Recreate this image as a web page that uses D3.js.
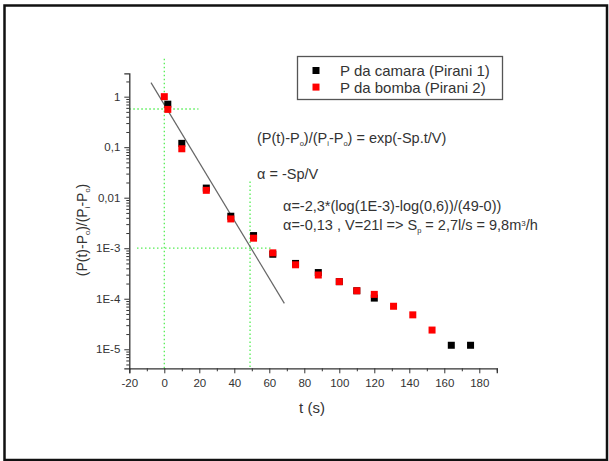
<!DOCTYPE html>
<html>
<head>
<meta charset="utf-8">
<script src="https://cdn.jsdelivr.net/npm/d3@7"></script>
<style>
  body { margin: 0; background: #fff; }
  svg { display: block; font-family: "Liberation Sans", Arial, sans-serif; }
</style>
</head>
<body>
<svg width="609" height="461"></svg>
<script>
// dados
const tempoCamara = [2, 10, 24, 38, 51, 62, 75, 88, 100, 110, 120, 164, 175]
const pCamara = [0.71, 0.119, 0.0155, 4.3e-3, 1.78e-3, 7.6e-4, 5.0e-4, 3.3e-4, 2.18e-4, 1.44e-4, 1.03e-4, 1.2e-5, 1.2e-5]

const tempoBomba = [0, 2, 10, 24, 38, 51, 62, 75, 88, 100, 110, 120, 131, 142, 153]
const pBomba = [1.0, 0.56, 0.093, 0.014, 3.8e-3, 1.58e-3, 8.1e-4, 4.7e-4, 2.95e-4, 2.18e-4, 1.44e-4, 1.22e-4, 7.1e-5, 4.8e-5, 2.4e-5]

// reta de ajuste (extremos)
const ajusteT = [-7.6, 68.6]
const ajusteP = [1.9, 8.1e-5]

const xTicks = [-20, 0, 20, 40, 60, 80, 100, 120, 140, 160, 180]
const yTicks = [1, 0.1, 0.01, 1e-3, 1e-4, 1e-5]
const yTickLabels = ["1", "0,1", "0,01", "1E-3", "1E-4", "1E-5"]

const legendas = ["P da camara (Pirani 1)", "P da bomba (Pirani 2)"]
const cores = ["#000000", "#ff0000"]

const svg = d3.select("svg")

const x = d3.scaleLinear().domain([-20, 190]).range([129.3, 496.8])
const y = d3.scaleLog().domain([4.2e-6, 2.9]).range([368.3, 73.3])

// moldura
svg.append("rect")
    .attr("x", 4.5).attr("y", 5.5)
    .attr("width", 602.5).attr("height", 454.5)
    .attr("fill", "none")
    .attr("stroke", "#111")
    .attr("stroke-width", 2.5)

// linhas guia verdes
const guias = [
    { t: [0, 0], p: [5.6, 4.2e-6] },
    { t: [-20, 19.5], p: [0.57, 0.57] },
    { t: [49, 49], p: [0.021, 4.2e-6] },
    { t: [-15.6, 61.5], p: [1e-3, 1e-3] }
]
svg.selectAll(".guia")
    .data(guias)
    .enter()
    .append("line")
    .attr("class", "guia")
    .attr("x1", d => x(d.t[0])).attr("x2", d => x(d.t[1]))
    .attr("y1", d => y(d.p[0])).attr("y2", d => y(d.p[1]))
    .attr("stroke", "#55ee55")
    .attr("stroke-width", 1.3)
    .attr("stroke-dasharray", "1.5,2.5")

// reta de ajuste
svg.append("line")
    .attr("x1", x(ajusteT[0])).attr("y1", y(ajusteP[0]))
    .attr("x2", x(ajusteT[1])).attr("y2", y(ajusteP[1]))
    .attr("stroke", "#666")
    .attr("stroke-width", 1.2)

// pontos
function desenhaPontos(ts, ps, cor) {
    svg.append("g")
        .selectAll("rect")
        .data(ts.map((t, i) => [t, ps[i]]))
        .enter()
        .append("rect")
        .attr("x", d => x(d[0]) - 3.5)
        .attr("y", d => y(d[1]) - 3.5)
        .attr("width", 7).attr("height", 7)
        .attr("fill", cor)
}
desenhaPontos(tempoCamara, pCamara, cores[0])
desenhaPontos(tempoBomba, pBomba, cores[1])

// eixos
const corEixo = "#333"
const xAxis = svg.append("g").attr("transform", `translate(0,${y.range()[0]})`)
    .call(d3.axisBottom(x).tickValues(xTicks).tickSize(5).tickPadding(6).tickFormat(d => String(d)))
xAxis.append("g")
    .call(d3.axisBottom(x).tickValues(d3.range(-10, 191, 20)).tickSize(3).tickFormat(""))
    .select(".domain").remove()

const yAxis = svg.append("g").attr("transform", `translate(${x.range()[0]},0)`)
    .call(d3.axisLeft(y).tickValues(yTicks).tickSize(5).tickPadding(4).tickFormat((d, i) => yTickLabels[i]))
yAxis.append("g")
    .call(d3.axisLeft(y).tickValues(y.ticks().filter(v => !yTicks.includes(v))).tickSize(3).tickFormat(""))
    .select(".domain").remove()

svg.selectAll(".domain").attr("stroke", corEixo).attr("stroke-width", 1.3)
svg.selectAll(".tick line").attr("stroke", corEixo)
svg.selectAll(".tick text")
    .attr("fill", corEixo)
    .style("font-size", "11.5px")
    .style("font-family", "'Liberation Sans', Arial, sans-serif")

// rotulos dos eixos
svg.append("text")
    .attr("x", 312).attr("y", 413)
    .attr("text-anchor", "middle")
    .attr("fill", corEixo)
    .style("font-size", "15px")
    .text("t (s)")

const yLabel = svg.append("text")
    .attr("transform", "translate(87,230) rotate(-90)")
    .attr("text-anchor", "middle")
    .attr("fill", corEixo)
    .style("font-size", "14px")

function comIndice(el, partes) {
    partes.forEach(p => {
        const ts = el.append("tspan").text(p.t)
        if (p.sub) ts.attr("baseline-shift", "-40%").style("font-size", "7.5px")
        if (p.sup) ts.attr("baseline-shift", "50%").style("font-size", "8px")
    })
}
comIndice(yLabel, [
    { t: "(P(t)-P" }, { t: "o", sub: true }, { t: ")/(P" }, { t: "i", sub: true },
    { t: "-P" }, { t: "o", sub: true }, { t: ")" }
])

// legenda
svg.append("rect")
    .attr("x", 297.5).attr("y", 56.5)
    .attr("width", 205).attr("height", 43)
    .attr("fill", "none")
    .attr("stroke", "#555")
    .attr("stroke-width", 1.3)

legendas.forEach((txt, i) => {
    svg.append("rect")
        .attr("x", 312.5).attr("y", 67 + i * 16.6)
        .attr("width", 7).attr("height", 7)
        .attr("fill", cores[i])
    svg.append("text")
        .attr("x", 340).attr("y", 76 + i * 16.6)
        .attr("fill", corEixo)
        .style("font-size", "15px")
        .text(txt)
})

// anotacoes
const tamAnot = "14.5px"
const a1 = svg.append("text").attr("x", 257).attr("y", 143).attr("fill", corEixo).style("font-size", tamAnot)
comIndice(a1, [
    { t: "(P(t)-P" }, { t: "o", sub: true }, { t: ")/(P" }, { t: "i", sub: true },
    { t: "-P" }, { t: "o", sub: true }, { t: ") = exp(-Sp.t/V)" }
])

svg.append("text").attr("x", 257).attr("y", 179).attr("fill", corEixo).style("font-size", tamAnot)
    .text("α = -Sp/V")

svg.append("text").attr("x", 283).attr("y", 211).attr("fill", corEixo).style("font-size", tamAnot)
    .text("α=-2,3*(log(1E-3)-log(0,6))/(49-0))")

const a4 = svg.append("text").attr("x", 283).attr("y", 230).attr("fill", corEixo).style("font-size", tamAnot)
comIndice(a4, [
    { t: "α=-0,13 , V=21l => S" }, { t: "p", sub: true }, { t: " = 2,7l/s = 9,8m" },
    { t: "3", sup: true }, { t: "/h" }
])
</script>
</body>
</html>
